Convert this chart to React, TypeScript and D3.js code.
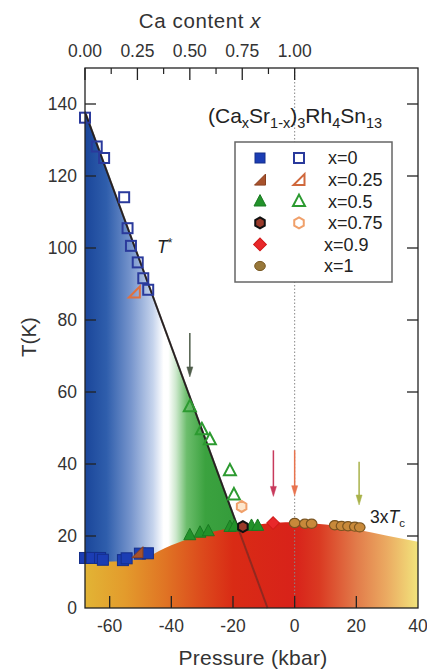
import React from "react";
import * as d3 from "d3";

const WIDTH = 427;
const HEIGHT = 670;
const margin = { top: 68, right: 9, bottom: 62, left: 85 };
const FONT = "'Liberation Sans', Arial, sans-serif";

// axis ticks
const pressureTicks = [-60, -40, -20, 0, 20, 40];
const tempTicks = [0, 20, 40, 60, 80, 100, 120, 140];
const caTicks = [0, 0.25, 0.5, 0.75, 1.0];
const caMinorTicks = [0.125, 0.375, 0.625, 0.875];

// 3 x Tc dome boundary
const domeP = [-68, -56, -48, -44, -40, -34, -28, -20, -12, -6, 0, 6, 14, 20, 30, 40];
const domeT = [12.8, 13.0, 14.0, 15.8, 17.4, 19.4, 20.9, 22.3, 23.2, 23.7, 23.8, 23.5, 22.8, 21.8, 20.1, 18.4];

// T* guide line
const tStarP = [-68, -8.8];
const tStarT = [137.8, 0];

// x = 0
const x0TcP = [-68, -65.8, -63.1, -62.2, -55.7, -54.5, -50.2, -47.6];
const x0TcT = [13.9, 13.9, 13.9, 13.4, 13.3, 13.8, 15.1, 15.2];
const x0TstarP = [-68, -64.2, -61.8, -55.3, -54.2, -53.1, -50.9, -49.1, -47.5];
const x0TstarT = [136.2, 128.2, 125, 114.1, 105.5, 100.6, 96, 91.6, 88.4];
// x = 0.25
const x25TcP = [-51.0];
const x25TcT = [15.5];
const x25TstarP = [-52];
const x25TstarT = [87.8];
// x = 0.5
const x50TcP = [-34, -30.7, -28, -21, -19.5, -14, -12];
const x50TcT = [20.3, 21.0, 21.4, 22.6, 22.7, 22.9, 22.9];
const x50TstarP = [-34, -30.1, -27.5, -21, -19.7];
const x50TstarT = [56, 49.6, 46.8, 38.2, 31.5];
// x = 0.75
const x75TcP = [-16.8];
const x75TcT = [22.6];
const x75TstarP = [-17.2];
const x75TstarT = [28.2];
// x = 0.9
const x90TcP = [-7];
const x90TcT = [23.6];
// x = 1
const x100TcP = [0, 3.3, 5.5, 13, 15.2, 17.3, 19.5, 21.1];
const x100TcT = [23.6, 23.4, 23.4, 23, 22.8, 22.7, 22.6, 22.4];

// arrows
const arrowP = [-34, -6.9, 0, 20.9];
const arrowTop = [76.4, 43.8, 43.8, 40.6];
const arrowTip = [64.2, 31, 31.2, 28.6];
const arrowColors = ["#4f5d4a", "#c83a5c", "#e8734e", "#a9b24a"];

const x = d3
  .scaleLinear()
  .domain([-68, 40])
  .range([margin.left, WIDTH - margin.right]);
const y = d3
  .scaleLinear()
  .domain([0, 150])
  .range([HEIGHT - margin.bottom, margin.top]);
const xCa = d3.scaleLinear().domain([0, 1]).range([x(-68), x(0)]);

const off = (p: number) => `${((p + 68) / 108) * 100}%`;

const starStops: [number, string][] = [
  [-68, "#1a469a"],
  [-61, "#2f5eac"],
  [-53, "#7896cd"],
  [-46, "#c5d3ec"],
  [-42.5, "#ffffff"],
  [-41, "#ffffff"],
  [-38.5, "#cde8cd"],
  [-35, "#6cbd6c"],
  [-29, "#3ba23f"],
  [-10, "#2e9537"],
];
const domeStops: [number, string][] = [
  [-68, "#e2b435"],
  [-55, "#e39b2c"],
  [-42, "#e07424"],
  [-30, "#dc4a1c"],
  [-20, "#d92b15"],
  [0, "#d8221a"],
  [8, "#da3a22"],
  [20, "#e27b4a"],
  [30, "#ebab62"],
  [40, "#f2e47c"],
];

const hexPath = (r: number) =>
  d3.line()(
    d3.range(6).map((i) => {
      const a = -Math.PI / 2 + (i * Math.PI) / 3;
      return [r * Math.cos(a), r * Math.sin(a)] as [number, number];
    })
  ) + "Z";
const rightTri = (s: number) =>
  `M${-s / 2},${s / 2}L${s / 2},${s / 2}L${s / 2},${-s / 2}Z`;
const upTri = (s: number) =>
  `M0,${-s * 0.55}L${s / 2},${s * 0.4}L${-s / 2},${s * 0.4}Z`;

type Kind = "square" | "rtri" | "tri" | "hex" | "diamond" | "circle";

const Marker = ({
  kind,
  cx,
  cy,
  fill,
  stroke,
  sw = 1,
  size = 10,
}: {
  kind: Kind;
  cx: number;
  cy: number;
  fill: string;
  stroke: string;
  sw?: number;
  size?: number;
}) => {
  const t = `translate(${cx},${cy})`;
  if (kind === "square")
    return <rect x={cx - size / 2} y={cy - size / 2} width={size} height={size} fill={fill} stroke={stroke} strokeWidth={sw} />;
  if (kind === "rtri") return <path transform={t} d={rightTri(11)} fill={fill} stroke={stroke} strokeWidth={sw} />;
  if (kind === "tri") return <path transform={t} d={upTri(12)} fill={fill} stroke={stroke} strokeWidth={sw} />;
  if (kind === "hex") return <path transform={t} d={hexPath(5.5)} fill={fill} stroke={stroke} strokeWidth={sw} />;
  if (kind === "diamond")
    return <rect x={-4.5} y={-4.5} width={9} height={9} transform={`${t} rotate(45)`} fill={fill} stroke={stroke} strokeWidth={sw} />;
  return <ellipse cx={cx} cy={cy} rx={5.3} ry={4.6} fill={fill} stroke={stroke} strokeWidth={sw} />;
};

const series = [
  { P: x0TcP, T: x0TcT, kind: "square" as Kind, fill: "#1b3db4", stroke: "#142e8a", sw: 1, size: 11 },
  { P: x0TstarP, T: x0TstarT, kind: "square" as Kind, fill: "none", stroke: "#2a3a9c", sw: 2, size: 10 },
  { P: x25TstarP, T: x25TstarT, kind: "rtri" as Kind, fill: "none", stroke: "#e0703e", sw: 2 },
  { P: x50TstarP, T: x50TstarT, kind: "tri" as Kind, fill: "none", stroke: "#2c9a30", sw: 2 },
  { P: x75TstarP, T: x75TstarT, kind: "hex" as Kind, fill: "#fde6cc", stroke: "#f0a06a", sw: 2 },
  { P: x50TcP, T: x50TcT, kind: "tri" as Kind, fill: "#22922a", stroke: "#1a7a22", sw: 1 },
  { P: x25TcP, T: x25TcT, kind: "rtri" as Kind, fill: "#a8522c", stroke: "#8a4020", sw: 1 },
  { P: x75TcP, T: x75TcT, kind: "hex" as Kind, fill: "#9a3a2a", stroke: "#111", sw: 2 },
  { P: x90TcP, T: x90TcT, kind: "diamond" as Kind, fill: "#e8282a", stroke: "#d01a1a", sw: 1 },
  { P: x100TcP, T: x100TcT, kind: "circle" as Kind, fill: "#c8893a", stroke: "#7a5420", sw: 1.2 },
];

const legendRows = [
  { label: "x=0", filled: { kind: "square" as Kind, fill: "#1b3db4", stroke: "#142e8a", sw: 1 }, open: { kind: "square" as Kind, fill: "#fff", stroke: "#2a3a9c", sw: 2 }, lx: 328 },
  { label: "x=0.25", filled: { kind: "rtri" as Kind, fill: "#a8522c", stroke: "#8a4020", sw: 1 }, open: { kind: "rtri" as Kind, fill: "#fff", stroke: "#d0683c", sw: 2 }, lx: 328 },
  { label: "x=0.5", filled: { kind: "tri" as Kind, fill: "#22922a", stroke: "#1a7a22", sw: 1 }, open: { kind: "tri" as Kind, fill: "#fff", stroke: "#2c9a30", sw: 2 }, lx: 328 },
  { label: "x=0.75", filled: { kind: "hex" as Kind, fill: "#9a3a2a", stroke: "#111", sw: 2 }, open: { kind: "hex" as Kind, fill: "#fff", stroke: "#f0a06a", sw: 2 }, lx: 328 },
  { label: "x=0.9", filled: { kind: "diamond" as Kind, fill: "#e8282a", stroke: "#d01a1a", sw: 1 }, open: null, lx: 324 },
  { label: "x=1", filled: { kind: "circle" as Kind, fill: "#98783a", stroke: "#7a5a24", sw: 1 }, open: null, lx: 324 },
];

export default function App() {
  const x0 = margin.left;
  const x1 = WIDTH - margin.right;
  const y0 = HEIGHT - margin.bottom;
  const y1 = margin.top;

  const starArea = d3
    .area<number>()
    .x((_, i) => x(tStarP[i]))
    .y0(y(0))
    .y1((t) => y(t))(tStarT);
  const domeArea = d3
    .area<number>()
    .x((_, i) => x(domeP[i]))
    .y0(y(0))
    .y1((t) => y(t))
    .curve(d3.curveMonotoneX)(domeT);
  const starLine = `M${x(tStarP[0])},${y(tStarT[0])}L${x(tStarP[1])},${y(tStarT[1])}`;

  return (
    <svg
      width={WIDTH}
      height={HEIGHT}
      style={{ position: "absolute", left: 0, top: 0, background: "#fff" }}
      fontFamily={FONT}
    >
      <defs>
        <linearGradient id="starGrad" gradientUnits="userSpaceOnUse" x1={x(-68)} x2={x(40)} y1={0} y2={0}>
          {starStops.map(([p, c]) => (
            <stop key={p} offset={off(p)} stopColor={c} />
          ))}
        </linearGradient>
        <linearGradient id="domeGrad" gradientUnits="userSpaceOnUse" x1={x(-68)} x2={x(40)} y1={0} y2={0}>
          {domeStops.map(([p, c]) => (
            <stop key={p} offset={off(p)} stopColor={c} />
          ))}
        </linearGradient>
      </defs>

      {/* filled regions */}
      <path d={starArea || ""} fill="url(#starGrad)" />
      <path d={starLine} stroke="#1a1a1a" strokeWidth={1.8} fill="none" />
      <path d={domeArea || ""} fill="url(#domeGrad)" />
      <path d={starLine} stroke="#3a2a2a" strokeOpacity={0.45} strokeWidth={2} fill="none" />

      {/* x = 1 guide */}
      <line x1={x(0)} x2={x(0)} y1={y1} y2={y0} stroke="#888" strokeWidth={1} strokeDasharray="1.5,2" />

      {/* arrows */}
      {arrowP.map((p, i) => {
        const ax = x(p);
        const tip = y(arrowTip[i]);
        return (
          <g key={i} stroke={arrowColors[i]} fill={arrowColors[i]}>
            <line x1={ax} x2={ax} y1={y(arrowTop[i])} y2={tip - 8} strokeWidth={1.5} />
            <path d={`M${ax - 3},${tip - 10}L${ax + 3},${tip - 10}L${ax},${tip}Z`} strokeWidth={0.5} />
          </g>
        );
      })}

      {/* markers */}
      {series.map((s, si) =>
        s.P.map((p, i) => (
          <Marker key={`${si}-${i}`} kind={s.kind} cx={x(p)} cy={y(s.T[i])} fill={s.fill} stroke={s.stroke} sw={s.sw} size={s.size} />
        ))
      )}

      {/* axes frame */}
      <rect x={x0} y={y1} width={x1 - x0} height={y0 - y1} fill="none" stroke="#222" strokeWidth={1.3} />

      {/* left / right ticks */}
      {tempTicks.map((t) => (
        <g key={t}>
          {t > 0 && <line x1={x0} x2={x0 + 11} y1={y(t)} y2={y(t)} stroke="#222" strokeWidth={1.3} />}
          {t > 0 && <line x1={x1} x2={x1 - 11} y1={y(t)} y2={y(t)} stroke="#222" strokeWidth={1.3} />}
          <text x={x0 - 8} y={y(t)} dy="0.36em" textAnchor="end" fontSize={17.5} fill="#333">
            {t}
          </text>
        </g>
      ))}

      {/* bottom ticks */}
      {pressureTicks.map((p) => (
        <g key={p}>
          {p < 40 && <line x1={x(p)} x2={x(p)} y1={y0} y2={y0 - 12} stroke="#222" strokeWidth={1.3} />}
          <text x={x(p)} y={632} textAnchor="middle" fontSize={17.5} fill="#333">
            {p}
          </text>
        </g>
      ))}

      {/* top Ca axis */}
      {caTicks.map((c) => (
        <g key={c}>
          <line x1={xCa(c)} x2={xCa(c)} y1={y1} y2={y1 + 12} stroke="#222" strokeWidth={1.3} />
          <text x={xCa(c)} y={57} textAnchor="middle" fontSize={17.5} fill="#333">
            {d3.format(".2f")(c)}
          </text>
        </g>
      ))}
      {caMinorTicks.map((c) => (
        <line key={c} x1={xCa(c)} x2={xCa(c)} y1={y1} y2={y1 + 6} stroke="#222" strokeWidth={1.2} />
      ))}

      {/* axis titles */}
      <text x={200} y={28} textAnchor="middle" fontSize={20.5} letterSpacing={0.6} fill="#333">
        Ca content <tspan fontStyle="italic">x</tspan>
      </text>
      <text x={253} y={665} textAnchor="middle" fontSize={21} letterSpacing={0.3} fill="#333">
        Pressure (kbar)
      </text>
      <text transform="translate(36,337) rotate(-90)" textAnchor="middle" fontSize={20.5} fill="#333">
        T(K)
      </text>

      {/* annotations */}
      <text x={157} y={253} fontSize={17.5} fill="#222" fontStyle="italic">
        T<tspan dy={-6} fontSize={12} fontStyle="normal">*</tspan>
      </text>
      <text x={370} y={523} fontSize={17.5} fill="#222">
        3x<tspan fontStyle="italic">T</tspan>
        <tspan dy={4} fontSize={11.5}>c</tspan>
      </text>
      <text x={208} y={123} fontSize={21} fill="#222">
        (Ca<tspan dy={5} fontSize={14.5}>x</tspan>
        <tspan dy={-5}>Sr</tspan>
        <tspan dy={5} fontSize={14.5}>1-x</tspan>
        <tspan dy={-5}>)</tspan>
        <tspan dy={5} fontSize={14.5}>3</tspan>
        <tspan dy={-5}>Rh</tspan>
        <tspan dy={5} fontSize={14.5}>4</tspan>
        <tspan dy={-5}>Sn</tspan>
        <tspan dy={5} fontSize={14.5}>13</tspan>
      </text>

      {/* legend */}
      <rect x={235} y={142} width={157} height={140} fill="#fff" stroke="#666" strokeWidth={1.5} />
      {legendRows.map((r, i) => {
        const ly = 158 + i * 21.6;
        return (
          <g key={r.label}>
            <Marker kind={r.filled.kind} cx={260} cy={ly} fill={r.filled.fill} stroke={r.filled.stroke} sw={r.filled.sw} />
            {r.open && <Marker kind={r.open.kind} cx={299} cy={ly} fill={r.open.fill} stroke={r.open.stroke} sw={r.open.sw} />}
            <text x={r.lx} y={ly} dy="0.36em" fontSize={18} fill="#222">
              {r.label}
            </text>
          </g>
        );
      })}
    </svg>
  );
}
